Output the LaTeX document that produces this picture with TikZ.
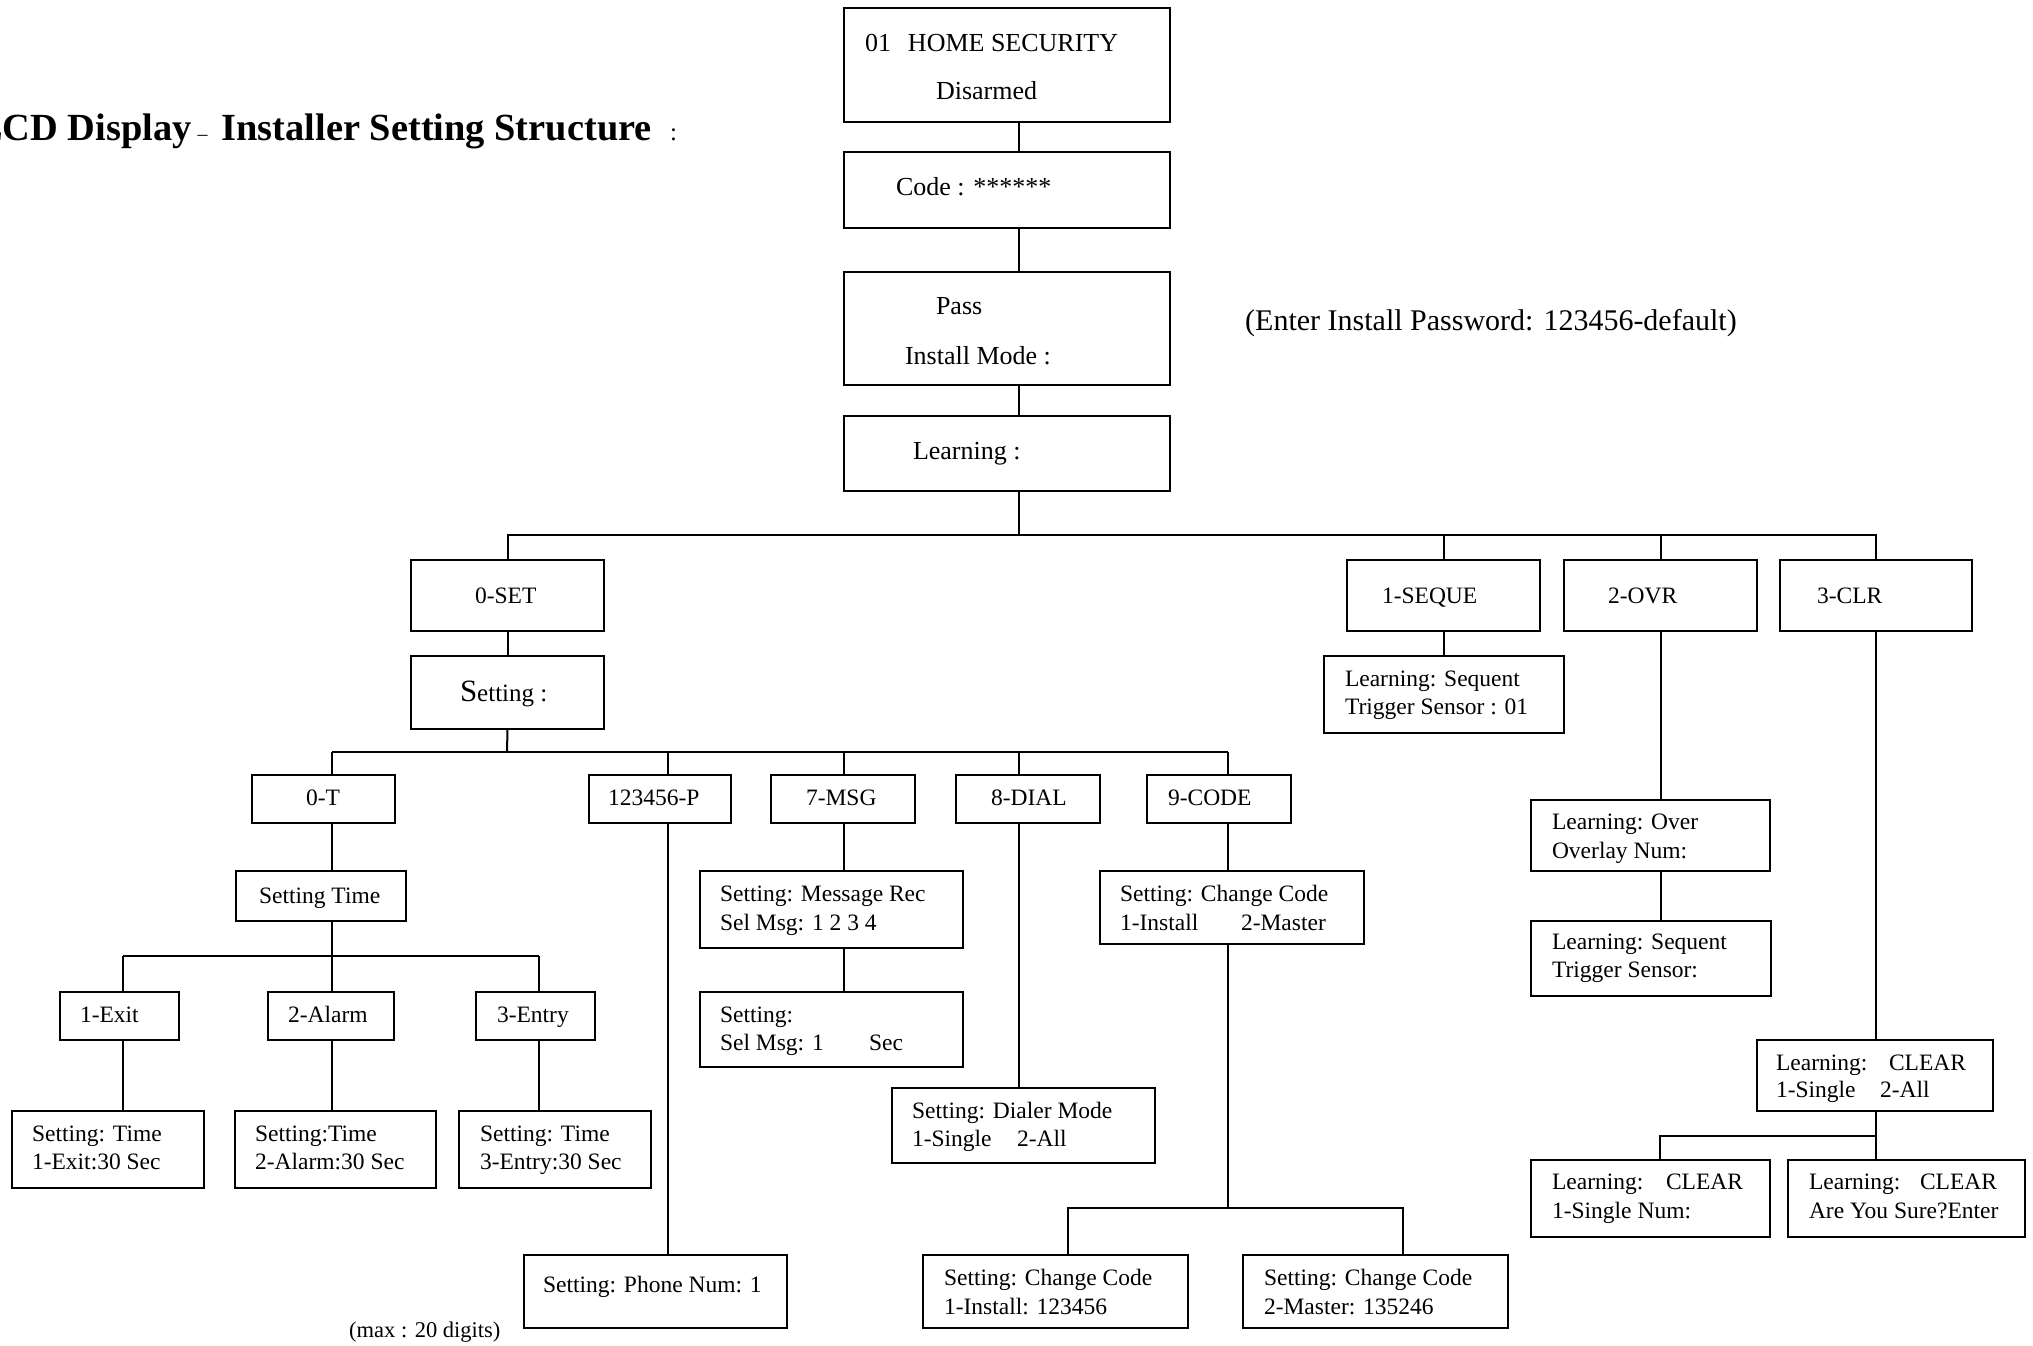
\documentclass[tikz,border=0pt]{standalone}
\usepackage{fontspec}
\setmainfont{Liberation Serif}
\newcommand\mkbox[5]{\node[box,minimum width={(#4-#2)*1pt},minimum height={(#5-#3)*1pt}] (#1) at ({(#2+#4)/2},{(#3+#5)/2}) {};}
\begin{document}
\begin{tikzpicture}[x=1pt,y=-1pt,
  box/.style={draw,line width=2.2pt,inner sep=0pt,outer sep=0pt},
  conn/.style={line width=2pt},
  lbl/.style={inner sep=0pt,outer sep=0pt,anchor=base west,font=\fontsize{23.5}{28}\selectfont},
  toplbl/.style={inner sep=0pt,outer sep=0pt,anchor=base west,font=\fontsize{26}{30}\selectfont}]
\useasboundingbox (0,0) rectangle (2033,1345);
% boxes
\mkbox{b1}{844}{8}{1170}{122}
\mkbox{b2}{844}{152}{1170}{228}
\mkbox{b3}{844}{272}{1170}{385}
\mkbox{b4}{844}{416}{1170}{491}
\mkbox{set}{411}{560}{604}{631}
\mkbox{seq}{1347}{560}{1540}{631}
\mkbox{ovr}{1564}{560}{1757}{631}
\mkbox{clr}{1780}{560}{1972}{631}
\mkbox{setting}{411}{656}{604}{729}
\mkbox{seqlearn}{1324}{656}{1564}{733}
\mkbox{tzero}{252}{775}{395}{823}
\mkbox{pbox}{589}{775}{731}{823}
\mkbox{msg}{771}{775}{915}{823}
\mkbox{dial}{956}{775}{1100}{823}
\mkbox{code}{1147}{775}{1291}{823}
\mkbox{stime}{236}{871}{406}{921}
\mkbox{msgrec}{700}{871}{963}{948}
\mkbox{selmsg}{700}{992}{963}{1067}
\mkbox{chcode}{1100}{871}{1364}{944}
\mkbox{dialer}{892}{1088}{1155}{1163}
\mkbox{phone}{524}{1255}{787}{1328}
\mkbox{ccA}{923}{1255}{1188}{1328}
\mkbox{ccB}{1243}{1255}{1508}{1328}
\mkbox{over}{1531}{800}{1770}{871}
\mkbox{trig}{1531}{921}{1771}{996}
\mkbox{clear}{1757}{1040}{1993}{1111}
\mkbox{single}{1531}{1160}{1770}{1237}
\mkbox{sure}{1788}{1160}{2025}{1237}
\mkbox{exit}{60}{992}{179}{1040}
\mkbox{alarm}{268}{992}{394}{1040}
\mkbox{entry}{476}{992}{595}{1040}
\mkbox{ste}{12}{1111}{204}{1188}
\mkbox{sta}{235}{1111}{436}{1188}
\mkbox{sten}{459}{1111}{651}{1188}
% junction coordinates
\coordinate (spine) at (1019,535);
\coordinate (jset) at (507,752);
\coordinate (xT) at (332,752);
\coordinate (xP) at (668,752);
\coordinate (xM) at (844,752);
\coordinate (xD) at (1019,752);
\coordinate (xC) at (1228,752);
\coordinate (xE) at (123,956);
\coordinate (xA) at (332,956);
\coordinate (xN) at (539,956);
\coordinate (jcode) at (1228,1208);
\coordinate (xCA) at (1068,1208);
\coordinate (xCB) at (1403,1208);
\coordinate (jclr) at (1876,1136);
\coordinate (xS) at (1660,1136);
% connectors
\draw[conn] (b1.south -| spine) -- (b2.north -| spine);
\draw[conn] (b2.south -| spine) -- (b3.north -| spine);
\draw[conn] (b3.south -| spine) -- (b4.north -| spine);
\draw[conn] (b4.south -| spine) -- (spine);
\draw[conn] (set.north) -- (set.north |- spine) -- (clr.north |- spine) -- (clr.north);
\draw[conn] (seq.north) -- (seq.north |- spine);
\draw[conn] (ovr.north) -- (ovr.north |- spine);
\draw[conn] (set.south) -- (setting.north);
\draw[conn] (seq.south) -- (seq.south |- seqlearn.north);
\draw[conn] (ovr.south) -- (ovr.south |- over.north);
\draw[conn] (ovr.south |- over.south) -- (ovr.south |- trig.north);
\draw[conn] (clr.south) -- (clr.south |- clear.north);
\draw[conn] (clr.south |- clear.south) -- (jclr);
\draw[conn] (xS |- single.north) -- (xS) -- (jclr) -- (jclr |- sure.north);
\draw[conn] (setting.south) -- (jset);
\draw[conn] (xT) -- (xC);
\draw[conn] (xT) -- (xT |- tzero.north);
\draw[conn] (xP) -- (xP |- pbox.north);
\draw[conn] (xM) -- (xM |- msg.north);
\draw[conn] (xD) -- (xD |- dial.north);
\draw[conn] (xC) -- (xC |- code.north);
\draw[conn] (xT |- tzero.south) -- (xT |- stime.north);
\draw[conn] (xT |- stime.south) -- (xA);
\draw[conn] (xE) -- (xN);
\draw[conn] (xE) -- (xE |- exit.north);
\draw[conn] (xA) -- (xA |- alarm.north);
\draw[conn] (xN) -- (xN |- entry.north);
\draw[conn] (xE |- exit.south) -- (xE |- ste.north);
\draw[conn] (xA |- alarm.south) -- (xA |- sta.north);
\draw[conn] (xN |- entry.south) -- (xN |- sten.north);
\draw[conn] (xP |- pbox.south) -- (xP |- phone.north);
\draw[conn] (xM |- msg.south) -- (xM |- msgrec.north);
\draw[conn] (xM |- msgrec.south) -- (xM |- selmsg.north);
\draw[conn] (xD |- dial.south) -- (xD |- dialer.north);
\draw[conn] (xC |- code.south) -- (xC |- chcode.north);
\draw[conn] (xC |- chcode.south) -- (jcode);
\draw[conn] (xCA |- ccA.north) -- (xCA) -- (xCB) -- (xCB |- ccB.north);
% texts
\node[inner sep=0pt,anchor=base east,font=\bfseries\fontsize{38.4}{44}\selectfont] (title) at (652,140) {LCD Display\hspace{6pt}{\mdseries\fontsize{20}{24}\selectfont --}\hspace{14pt}Installer Setting Structure};
\node[inner sep=0pt,anchor=base west,font=\fontsize{25}{30}\selectfont] (colon) at (670,140) {:};
\node[inner sep=0pt,anchor=base west,font=\fontsize{30}{36}\selectfont] (note) at (1245,330) {(Enter Install Password: 123456-default)};
\node[toplbl] (t1a) at (865,51.5) {01\hspace{17pt}HOME SECURITY};
\node[toplbl] (t1b) at (936,99) {Disarmed};
\node[toplbl] (t2) at (896,195) {Code : ******};
\node[toplbl] (t3a) at (936,314) {Pass};
\node[toplbl] (t3b) at (905,364) {Install Mode :};
\node[toplbl] (t4) at (913,459) {Learning :};
\node[lbl] (l0) at (475,603) {0-SET};
\node[lbl] (l1) at (1382,603) {1-SEQUE};
\node[lbl] (l2) at (1608,603) {2-OVR};
\node[lbl] (l3) at (1817,603) {3-CLR};
\node[lbl] (lset) at (460,701) {{\fontsize{31}{36}\selectfont S}{\fontsize{25}{30}\selectfont etting :}};
\node[lbl] (lsa) at (1345,686) {Learning: Sequent};
\node[lbl] (lsb) at (1345,714) {Trigger Sensor : 01};
\node[lbl] (m0) at (306,805) {0-T};
\node[lbl] (m1) at (608,805) {123456-P};
\node[lbl] (m2) at (806,805) {7-MSG};
\node[lbl] (m3) at (991,805) {8-DIAL};
\node[lbl] (m4) at (1168,805) {9-CODE};
\node[lbl] (st) at (259,903) {Setting Time};
\node[lbl] (mra) at (720,901) {Setting: Message Rec};
\node[lbl] (mrb) at (720,930) {Sel Msg: 1 2 3 4};
\node[lbl] (sma) at (720,1022) {Setting:};
\node[lbl] (smb) at (720,1050) {\makebox[149pt][l]{Sel Msg: 1}Sec};
\node[lbl] (cca) at (1120,901) {Setting: Change Code};
\node[lbl] (ccb) at (1120,930) {\makebox[121pt][l]{1-Install}2-Master};
\node[lbl] (dma) at (912,1118) {Setting: Dialer Mode};
\node[lbl] (dmb) at (912,1146) {\makebox[105pt][l]{1-Single}2-All};
\node[lbl] (pn) at (543,1292) {Setting: Phone Num: 1};
\node[inner sep=0pt,anchor=base west,font=\fontsize{22.5}{26}\selectfont] (mx) at (349,1337) {(max : 20 digits)};
\node[lbl] (caa) at (944,1285) {Setting: Change Code};
\node[lbl] (cab) at (944,1314) {1-Install: 123456};
\node[lbl] (cba) at (1264,1285) {Setting: Change Code};
\node[lbl] (cbb) at (1264,1314) {2-Master: 135246};
\node[lbl] (ova) at (1552,829) {Learning: Over};
\node[lbl] (ovb) at (1552,858) {Overlay Num:};
\node[lbl] (tra) at (1552,949) {Learning: Sequent};
\node[lbl] (trb) at (1552,977) {Trigger Sensor:};
\node[lbl] (cla) at (1776,1070) {\makebox[113pt][l]{Learning:}CLEAR};
\node[lbl] (clb) at (1776,1097) {\makebox[104pt][l]{1-Single}2-All};
\node[lbl] (sna) at (1552,1189) {\makebox[114pt][l]{Learning:}CLEAR};
\node[lbl] (snb) at (1552,1218) {1-Single Num:};
\node[lbl] (sua) at (1809,1189) {\makebox[111pt][l]{Learning:}CLEAR};
\node[lbl] (sub) at (1809,1218) {Are You Sure?Enter};
\node[lbl] (ex) at (80,1022) {1-Exit};
\node[lbl] (al) at (288,1022) {2-Alarm};
\node[lbl] (en) at (497,1022) {3-Entry};
\node[lbl] (sea) at (32,1141) {Setting: Time};
\node[lbl] (seb) at (32,1169) {1-Exit:30 Sec};
\node[lbl] (saa) at (255,1141) {Setting:Time};
\node[lbl] (sab) at (255,1169) {2-Alarm:30 Sec};
\node[lbl] (sna2) at (480,1141) {Setting: Time};
\node[lbl] (snb2) at (480,1169) {3-Entry:30 Sec};
\end{tikzpicture}
\end{document}
